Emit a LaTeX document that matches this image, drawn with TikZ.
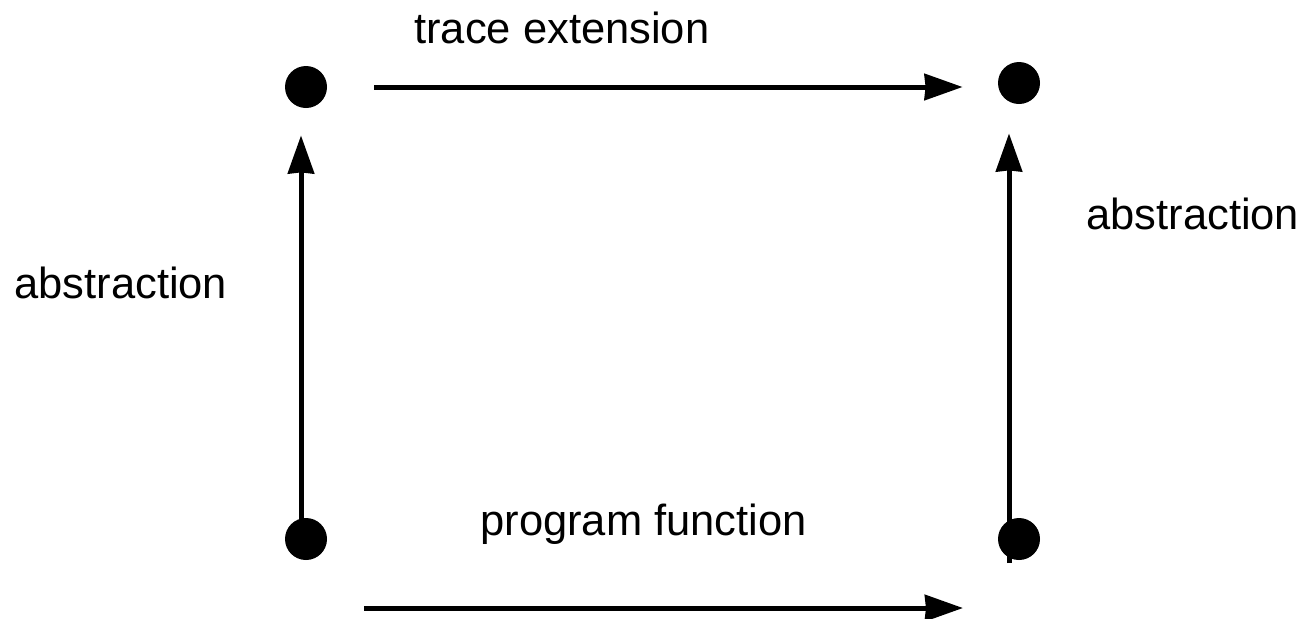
\documentclass[tikz,border=0pt]{standalone}
\usepackage{fontspec}
\setmainfont{Liberation Sans}
\usetikzlibrary{arrows.meta}
\begin{document}
\begin{tikzpicture}[x=0.5pt,y=-0.5pt,
  dot/.style={circle,fill=black,inner sep=0pt,minimum size=21pt},
  arr/.style={line width=2.5pt,-{Stealth[length=19pt,width=13pt,inset=0.5pt]}},
  lbl/.style={inner sep=0pt,anchor=base west,font=\fontsize{21.75}{26}\selectfont}]
\useasboundingbox (0,0) rectangle (1300,618);
% the four states
\node[dot] (tl) at (306,87) {};
\node[dot] (tr) at (1019,83) {};
\node[dot] (bl) at (306,539) {};
\node[dot] (br) at (1019,539) {};
% ends of the lower arrow
\coordinate (pf1) at (364,608);
\coordinate (pf2) at (963,608);
% arrows
\draw[arr,shorten <=23.5pt,shorten >=17.5pt] (tl.east) -- (tl.east -| tr.west);
\draw[arr] (pf1) -- (pf2);
\draw[arr,shorten >=13.5pt] ([xshift=-2.5pt]bl.center) -- ([xshift=-2.5pt]tl.south);
\draw[arr,shorten >=14.5pt] ([xshift=-5pt,yshift=-12pt]br.center) -- ([xshift=-5pt]br.center |- tr.south);
% labels
\node[lbl] (te) at (414,43) {trace extension};
\node[lbl] (pf) at (480,535) {program function};
\node[lbl] (al) at (14,298) {abstraction};
\node[lbl] (ar) at (1086,229) {abstraction};
\end{tikzpicture}
\end{document}
